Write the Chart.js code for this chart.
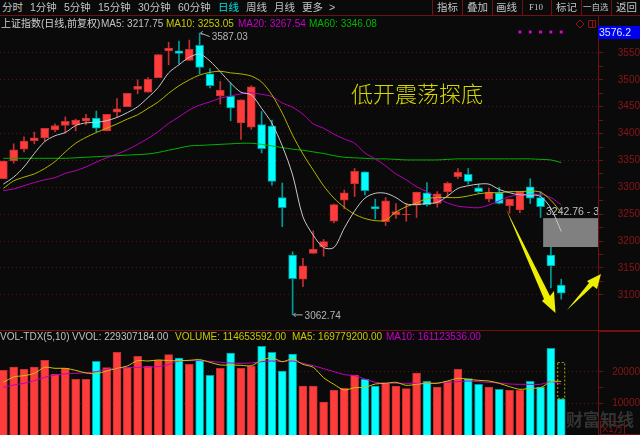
<!DOCTYPE html>
<html>
<head>
<meta charset="utf-8">
<script src="https://cdn.jsdelivr.net/npm/chart.js@4"></script>
<style>
    html, body { margin: 0; padding: 0; background: #0a0a0a; overflow: hidden; }
    #page { position: relative; width: 640px; height: 435px; overflow: hidden; background: #0a0a0a;
        font-family: "Liberation Sans", "Noto Sans CJK SC", sans-serif; }
    canvas { position: absolute; left: 0; }
    #priceChart { top: 16px; }
    #volChart { top: 330px; }
    .t { position: absolute; white-space: nowrap; line-height: 14px; }
    .nav { font-size: 10.5px; color: #c4c4c4; top: 0; }
    .leg { font-size: 10px; top: 17px; }
    .vleg { font-size: 10px; top: 330px; }
    .sep { position: absolute; top: 0; width: 1px; height: 15px; background: #701010; }
</style>
</head>
<body>
<div id="page">
    <canvas id="priceChart" width="640" height="314"></canvas>
    <canvas id="volChart" width="640" height="105"></canvas>

    <!-- 顶部工具栏 -->
    <span class="t nav" style="left:2px">分时</span>
    <span class="t nav" style="left:30px">1分钟</span>
    <span class="t nav" style="left:64px">5分钟</span>
    <span class="t nav" style="left:98px">15分钟</span>
    <span class="t nav" style="left:138px">30分钟</span>
    <span class="t nav" style="left:178px">60分钟</span>
    <span class="t nav" style="left:218px;color:#00e0e0">日线</span>
    <span class="t nav" style="left:246px">周线</span>
    <span class="t nav" style="left:274px">月线</span>
    <span class="t nav" style="left:302px">更多</span>
    <span class="t nav" style="left:329px">&gt;</span>
    <div class="sep" style="left:432px"></div>
    <div class="sep" style="left:462px"></div>
    <div class="sep" style="left:492px"></div>
    <div class="sep" style="left:522px"></div>
    <div class="sep" style="left:551px"></div>
    <div class="sep" style="left:581px"></div>
    <div class="sep" style="left:611px"></div>
    <span class="t nav" style="left:437px">指标</span>
    <span class="t nav" style="left:467px">叠加</span>
    <span class="t nav" style="left:496px">画线</span>
    <span class="t nav" style="left:529px;font-size:9px;font-family:'Liberation Serif'">F10</span>
    <span class="t nav" style="left:556px">标记</span>
    <span class="t nav" style="left:583px;font-size:8.5px">一自选</span>
    <span class="t nav" style="left:616px">返回</span>
    <div style="position:absolute;left:0;top:15px;width:640px;height:1px;background:#701010"></div>

    <!-- 主图图例 -->
    <span class="t leg" style="left:1px;color:#d0d0d0">上证指数(日线,前复权)</span>
    <span class="t leg" style="left:101px;color:#c0c0c0">MA5: 3217.75</span>
    <span class="t leg" style="left:166px;color:#c8c800">MA10: 3253.05</span>
    <span class="t leg" style="left:238px;color:#c800c8">MA20: 3267.54</span>
    <span class="t leg" style="left:309px;color:#00b400">MA60: 3346.08</span>
    <div class="t" style="left:598px;top:26px;width:42px;height:13px;background:#0000f0;color:#d8e8ff;font-size:10.5px;line-height:13px;text-indent:1px">3576.2</div>
    <span class="t" style="left:351px;top:81px;font-size:22px;line-height:28px;color:#d8d800;font-weight:300">低开震荡探底</span>
    <div class="t" style="left:546px;top:204px;width:52px;overflow:hidden;font-size:10.5px;color:#c0c0c0">3242.76 - 3242.76</div>

    <!-- 副图 -->
    <div style="position:absolute;left:0;top:330px;width:640px;height:1px;background:#701010"></div>
    <span class="t vleg" style="left:0;color:#c0c0c0">VOL-TDX(5,10)</span>
    <span class="t vleg" style="left:72px;color:#c0c0c0">VVOL: 229307184.00</span>
    <span class="t vleg" style="left:175px;color:#c8c800">VOLUME: 114653592.00</span>
    <span class="t vleg" style="left:292px;color:#c8c800">MA5: 169779200.00</span>
    <span class="t vleg" style="left:386px;color:#c800c8">MA10: 161123536.00</span>
    <div style="position:absolute;left:598px;top:331px;width:41px;height:102px;border:1px solid #701010;box-sizing:content-box"></div>
    <div class="t" style="left:600px;top:421px;height:13px;font-size:9.5px;line-height:13px;color:#8a1414;border:1px solid #701010;padding:0 1px">X1万</div>
    <span class="t" style="left:566px;top:410px;font-size:17px;line-height:22px;font-weight:700;color:#333333">财富知线</span>
</div>

<script>
// 日K数据,从图上读出来的
const opens = [3316,3349,3371,3387,3392,3407,3415,3416,3423,3429,3405,3440,3450,3482,3477,3504,3554,3554,3536,3564,
    3511,3470,3470,3420,3412,3417,3414,3281,3174,3129,3177,3189,3237,3276,3307,3329,3264,3236,3249,3249,
    3267,3290,3270,3292,3320,3324,3299,3278,3290,3266,3258,3301,3281,3174,3118];
const closes = [3349,3370,3386,3392,3410,3415,3423,3425,3429,3410,3436,3446,3475,3488,3501,3547,3559,3549,3557,3523,
    3489,3481,3448,3463,3487,3372,3311,3262,3130,3154,3185,3199,3268,3290,3330,3294,3260,3275,3255,3250,
    3291,3268,3288,3308,3328,3311,3292,3291,3270,3278,3292,3280,3264,3154,3103];
const highs = [3349,3381,3394,3403,3410,3418,3431,3427,3436,3442,3436,3465,3475,3500,3504,3547,3570,3572,3574,3587.03,
    3521,3497,3494,3463,3489,3441,3425,3308,3180,3168,3219,3203,3269,3295,3335,3329,3278,3281,3270,3270,
    3291,3309,3292,3310,3335,3335,3306,3298,3300,3278,3292,3316,3292,3225,3129];
const lows = [3316,3345,3366,3381,3386,3403,3401,3405,3416,3403,3405,3431,3450,3474,3477,3504,3528,3530,3536,3511,
    3485,3455,3424,3389,3408,3364,3304,3227,3062.74,3115,3177,3172,3234,3260,3283,3286,3241,3229,3242,3237,
    3244,3265,3263,3282,3316,3306,3289,3273,3269,3252,3253,3270,3244,3113,3092];

const ma5 = [3306,3319,3338,3363,3385,3396,3402,3415,3420,3421,3424,3430,3439,3450,3467,3486,3513,3528,3542,3548,
    3535,3515,3494,3477,3472,3447,3419,3377,3323,3245,3211,3188,3188,3224,3256,3280,3289,3289,3281,3269,
    3268,3270,3272,3284,3298,3303,3306,3306,3296,3290,3286,3286,3283,3261,3217.75];
const ma10 = [3298,3312,3319,3325,3335,3348,3366,3382,3393,3402,3410,3418,3427,3435,3447,3459,3475,3489,3500,3509,
    3514,3516,3513,3511,3507,3496,3472,3438,3397,3362,3332,3303,3280,3263,3250,3242,3238,3239,3254,3264,
    3271,3279,3281,3281,3281,3284,3288,3290,3290,3292,3292,3293,3291,3276,3253.05];
const ma20 = [3294,3297,3303,3309,3314,3318,3326,3331,3338,3347,3355,3362,3370,3380,3391,3404,3419,3431,3444,3453,
    3459,3466,3470,3474,3476,3473,3469,3457,3449,3436,3418,3410,3399,3390,3382,3364,3353,3340,3325,3314,
    3301,3292,3280,3271,3265,3263,3262,3267,3275,3283,3286,3287,3287,3281,3267.54];
const ma60 = [3354,3354,3354,3354,3354,3354,3354,3355,3356,3357,3358,3359,3360,3361,3362,3365,3369,3373,3377,3378,
    3379,3380,3381,3382,3382,3380,3377,3374,3371,3369,3366,3363,3359,3356,3355,3354,3353,3353,3352,3351,
    3351,3351,3351,3352,3353,3353,3353,3353,3353,3353,3353,3353,3352,3351,3346.08];

// 成交量,单位万
const volumes = [20467,21522,20784,21522,23632,19307,21100,17619,17619,23316,21311,26164,21417,24898,21733,23738,25426,24371,22366,23632,
    18885,21100,25953,21100,21839,28063,26164,20256,25637,15509,15509,10445,14137,14876,18990,17619,15509,16353,15509,14665,
    19623,16986,15192,16986,20784,17830,16036,15192,14454,14137,14137,16986,15192,27430,11465];
const volMa5 = [16669,18357,18779,19518,21417,21100,21100,20467,19623,19412,20256,21100,21839,23527,23421,23738,23527,23527,23632,23843,
    22999,22155,22155,22050,21944,23632,24476,23210,24054,22366,21417,18146,16036,14243,14981,15087,16142,16353,16669,15720,
    16036,16353,16353,17091,17935,17619,17302,17091,16353,15298,14454,14770,14981,16880,16978];
const volMa10 = [15087,15825,16353,17197,18252,18990,19307,19518,19729,20045,20784,21100,21311,21417,21522,21628,22261,23421,23527,23527,
    23316,22999,22788,22683,22788,23210,23421,23210,23421,22683,21944,20995,20045,19096,18779,17724,16669,16458,16353,16353,
    16353,16353,16458,16669,16880,17091,16880,16669,16458,16142,16036,16036,16036,16880,16112];
const vvol = 22931;

// 刻度,带文字的是整 50 点和整万
const priceTicks = [3100,3125,3150,3175,3200,3225,3250,3275,3300,3325,3350,3375,3400,3425,3450,3475,3500,3525,3550];
const volTicks = [10000,15000,20000];

// 标注
const highMark = { index: 19, price: 3587.03, text: "3587.03" };
const lowMark = { index: 28, price: 3062.74, text: "3062.74" };
const rangeBox = { from: 52.25, top: 3242.76, bottom: 3189 };
const markerIndexes = [50, 51, 52, 53, 54];
const markerPrice = 3589;

const RED = "#ff3c3c", RED_DARK = "#c23030", CYAN = "#00ffff", CYAN_DARK = "#009c9c";
const GRID = "#5c1010", AXIS = "#701010", LABEL = "#8c1616";

const isUp = i => closes[i] >= opens[i];
const pts = arr => arr.map((v, i) => ({ x: i, y: v }));
const maLine = (label, data, color, order) => ({
    type: "line", label, data: pts(data), borderColor: color, borderWidth: 1,
    pointRadius: 0, tension: 0.3, order
});

// 坐标轴公共部分
function axisOptions(low, high, tickValues, labelStep) {
    return {
        position: "right",
        stacked: false,
        min: low,
        max: high,
        border: { color: AXIS, dash: [1, 3] },
        grid: {
            color: c => (c.tick.value % labelStep === 0 ? GRID : "transparent"),
            tickColor: AXIS,
            tickLength: 5
        },
        ticks: {
            autoSkip: false,
            padding: 0,
            crossAlign: "far",
            color: LABEL,
            font: { family: "Liberation Sans", size: 10 },
            callback: v => (v % labelStep === 0 ? String(v) : "")
        },
        afterBuildTicks: s => { s.ticks = tickValues.map(value => ({ value })); },
        afterFit: s => { s.width = 42; s.paddingTop = 0; s.paddingBottom = 0; }
    };
}

// stacked 让影线和实体共用一个位置,不并排
const xAxis = () => ({ type: "linear", display: false, offset: false, stacked: true, min: -0.323, max: 57.56, ticks: { display: false } });

// 价格标注、灰框、箭头
const overlayPlugin = {
    id: "overlay",
    beforeDatasetDraw(chart, args) {
        if (chart.data.datasets[args.index].label !== "MA60") return;
        const { x, y } = chart.scales;
        const ctx = chart.ctx;
        const top = y.getPixelForValue(rangeBox.top);
        ctx.save();
        ctx.fillStyle = "#808080";
        ctx.fillRect(x.getPixelForValue(rangeBox.from), top, chart.chartArea.right - x.getPixelForValue(rangeBox.from),
            y.getPixelForValue(rangeBox.bottom) - top);
        ctx.restore();
    },
    afterDraw(chart) {
        const { x, y } = chart.scales;
        const ctx = chart.ctx;
        ctx.save();
        ctx.font = "10px 'Liberation Sans'";
        ctx.textBaseline = "middle";
        [[highMark, 3.5], [lowMark, 0]].forEach(([m, drop]) => {
            const px = x.getPixelForValue(m.index), py = y.getPixelForValue(m.price);
            ctx.strokeStyle = "#b0b0b0";
            ctx.beginPath();
            ctx.moveTo(px + 10, py + drop);
            ctx.lineTo(px + 1, py);
            ctx.lineTo(px + 3, py - 2);
            ctx.moveTo(px + 1, py);
            ctx.lineTo(px + 3, py + 2);
            ctx.stroke();
            ctx.fillStyle = "#b4b4b4";
            ctx.fillText(m.text, px + 12, py + drop + 1);
        });
        // 两个手绘箭头,画布坐标要减去 16 的上边距
        ctx.fillStyle = "#eeee00";
        [
            [[506, 209], [550, 296], [554, 291], [555.5, 313], [542, 301], [544, 299]],
            [[567, 310], [589, 283], [587, 281], [601, 274], [597, 289], [593, 286]]
        ].forEach(shape => {
            ctx.beginPath();
            shape.forEach(([px, py], i) => (i ? ctx.lineTo(px, py - 16) : ctx.moveTo(px, py - 16)));
            ctx.closePath();
            ctx.fill();
        });
        // 右上角小图标
        ctx.strokeStyle = "#8c1616";
        ctx.beginPath();
        ctx.moveTo(580, 4); ctx.lineTo(584, 8); ctx.lineTo(580, 12); ctx.lineTo(576, 8); ctx.closePath();
        ctx.stroke();
        ctx.beginPath();
        ctx.rect(588.5, 4.5, 7, 7);
        ctx.moveTo(592.5, 4.5); ctx.lineTo(592.5, 11.5);
        ctx.stroke();
        ctx.restore();
    }
};

new Chart(document.getElementById("priceChart"), {
    type: "bar",
    data: {
        datasets: [
            {
                label: "wick", order: 10, barThickness: 1, stack: "k",
                data: lows.map((l, i) => ({ x: i, y: [l, highs[i]] })),
                backgroundColor: lows.map((l, i) => (isUp(i) ? RED_DARK : CYAN_DARK))
            },
            {
                label: "body", order: 9, barThickness: 8, stack: "k",
                data: opens.map((o, i) => ({ x: i, y: [o, closes[i]] })),
                backgroundColor: opens.map((o, i) => (isUp(i) ? RED : CYAN)),
                borderColor: opens.map((o, i) => (isUp(i) ? RED_DARK : CYAN_DARK)),
                borderWidth: 1, borderSkipped: false
            },
            maLine("MA60", ma60, "#00b400", 4),
            maLine("MA20", ma20, "#b800b8", 3),
            maLine("MA10", ma10, "#b4b400", 2),
            maLine("MA5", ma5, "#c8c8c8", 1),
            {
                type: "line", label: "marker", order: 0, showLine: false,
                data: markerIndexes.map(i => ({ x: i, y: markerPrice })),
                pointStyle: "rect", pointRadius: 2, pointBackgroundColor: "#e000e0", pointBorderWidth: 0
            }
        ]
    },
    options: {
        responsive: false,
        animation: false,
        devicePixelRatio: 1,
        layout: { padding: 0, autoPadding: false },
        plugins: { legend: { display: false }, tooltip: { enabled: false } },
        scales: {
            x: xAxis(),
            y: axisOptions(3034.6, 3618.8, priceTicks, 50)
        }
    },
    plugins: [overlayPlugin]
});

// 副图 VVOL 虚线框
const vvolPlugin = {
    id: "vvolBox",
    afterDatasetsDraw(chart) {
        const { x, y } = chart.scales;
        const ctx = chart.ctx;
        const last = volumes.length - 1;
        const px = x.getPixelForValue(last);
        ctx.save();
        ctx.setLineDash([2, 2]);
        ctx.strokeStyle = "#a8a800";
        ctx.strokeRect(px - 3.5, y.getPixelForValue(vvol), 7, y.getPixelForValue(volumes[last]) - y.getPixelForValue(vvol));
        ctx.restore();
    }
};

new Chart(document.getElementById("volChart"), {
    type: "bar",
    data: {
        datasets: [
            {
                label: "VOLUME", order: 5, barThickness: 8,
                data: pts(volumes),
                backgroundColor: volumes.map((v, i) => (isUp(i) ? RED : CYAN)),
                borderColor: volumes.map((v, i) => (isUp(i) ? RED_DARK : CYAN_DARK)),
                borderWidth: 1
            },
            maLine("MA10", volMa10, "#c000c0", 2),
            maLine("MA5", volMa5, "#c8c800", 1)
        ]
    },
    options: {
        responsive: false,
        animation: false,
        devicePixelRatio: 1,
        layout: { padding: 0, autoPadding: false },
        plugins: { legend: { display: false }, tooltip: { enabled: false } },
        scales: {
            x: xAxis(),
            y: axisOptions(0, 33228, volTicks, 10000)
        }
    },
    plugins: [vvolPlugin]
});
</script>
</body>
</html>
